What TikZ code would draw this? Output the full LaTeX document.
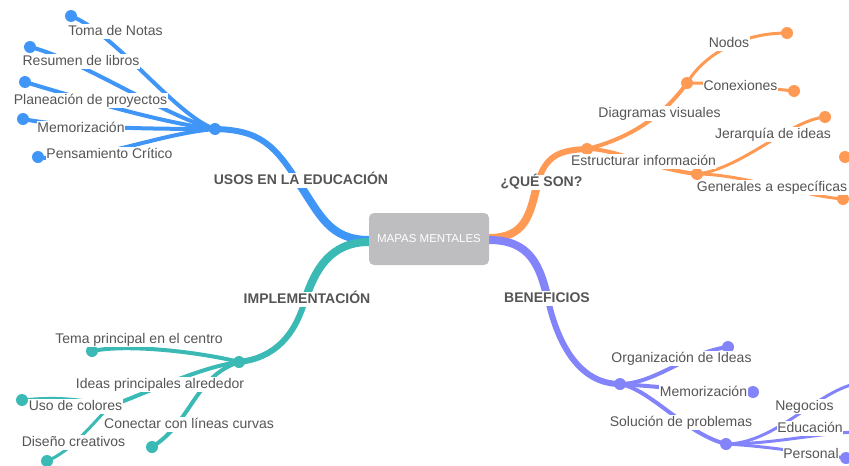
\documentclass[tikz,border=0pt]{standalone}
\usepackage{fontspec}
\setmainfont{Liberation Sans}
\definecolor{cblue}{RGB}{64,150,246}
\definecolor{corange}{RGB}{255,154,84}
\definecolor{cpurple}{RGB}{132,132,250}
\definecolor{cteal}{RGB}{59,185,181}
\definecolor{ctext}{RGB}{85,85,85}
\definecolor{cbox}{RGB}{190,190,192}
\tikzset{
  mainA/.style={line width=8pt, line cap=round},
  mainB/.style={line width=6pt, line cap=round},
  leaf/.style={line width=4pt, line cap=round},
  sub/.style={line width=3pt, line cap=round},
  dot/.style={circle, inner sep=0pt, minimum size=12pt},
  lbl/.style={font=\fontsize{14}{16}\selectfont, text=ctext, fill=white, inner sep=0.6pt, text height=10pt, text depth=3pt, anchor=base},
  blbl/.style={lbl, font=\fontsize{14}{16}\selectfont\bfseries},
  centerbox/.style={fill=cbox, rounded corners=5pt, minimum width=120pt, minimum height=52pt, text=white, font=\fontsize{11.5}{13}\selectfont, inner sep=0pt}
}
\begin{document}
\begin{tikzpicture}[x=1pt,y=-1pt]
\useasboundingbox (0,0) rectangle (849,466);
% ---------- coordinates ----------
\coordinate (bstart) at (400,240);
\coordinate (bmid) at (300,185);
\coordinate (bhub) at (215,129);
\coordinate (b1) at (71,16);
\coordinate (b2) at (30,47);
\coordinate (b3) at (25,82);
\coordinate (b4) at (23,119);
\coordinate (b5) at (38,157);
\coordinate (tstart) at (400,242);
\coordinate (tmid) at (305,300);
\coordinate (thub) at (239,362);
\coordinate (t1) at (92,351);
\coordinate (t2) at (110,406);
\coordinate (t2a) at (22,400);
\coordinate (t2b) at (47,461);
\coordinate (t3) at (152,447);
\coordinate (ostart) at (460,238);
\coordinate (omid) at (537,185);
\coordinate (ohub) at (587,149);
\coordinate (o1) at (687,83);
\coordinate (o1a) at (787,33);
\coordinate (o1b) at (794,91);
\coordinate (o2) at (697,174);
\coordinate (o2a) at (825,117);
\coordinate (o2b) at (843,199);
\coordinate (o2c) at (845,157);
\coordinate (pstart) at (460,240);
\coordinate (pmid) at (548,300);
\coordinate (phub) at (620,384);
\coordinate (p1) at (728,347);
\coordinate (p2) at (753,392);
\coordinate (p3) at (726,444);
\coordinate (p3a) at (860,383);
\coordinate (p3b) at (862,432);
\coordinate (p3c) at (846,458);
% ---------- blue ----------
\draw[mainA,cblue] (bstart) -- (369,240) .. controls +(-39,0) and +(20,30) .. (bmid);
\draw[mainB,cblue] (bmid) .. controls +(-25,-40) and +(45,1) .. (bhub);
\draw[leaf,cblue] (bhub) .. controls +(-38,-12) and +(45,18) .. (b1);
\draw[leaf,cblue] (bhub) .. controls +(-45,-10) and +(50,12) .. (b2);
\draw[leaf,cblue] (bhub) .. controls +(-50,-5) and +(50,15) .. (b3);
\draw[leaf,cblue] (bhub) .. controls +(-80,0) and +(40,8) .. (b4);
\draw[leaf,cblue] (bhub) .. controls +(-60,5) and +(50,8) .. (b5);
% ---------- teal ----------
\draw[mainA,cteal] (tstart) -- (369,242) .. controls +(-39,0) and +(10,-30) .. (tmid);
\draw[mainB,cteal] (tmid) .. controls +(-10,35) and +(36,-4) .. (thub);
\draw[leaf,cteal] (thub) .. controls +(-30,-8) and +(40,-8) .. (t1);
\draw[leaf,cteal] (thub) .. controls +(-40,5) and +(30,-10) .. (t2);
\draw[sub,cteal] (t2) .. controls +(-30,-8) and +(30,-3) .. (t2a);
\draw[sub,cteal] (t2) .. controls +(-15,15) and +(25,-10) .. (t2b);
\draw[leaf,cteal] (thub) .. controls +(-45,15) and +(40,-25) .. (t3);
% ---------- orange ----------
\draw[mainA,corange] (ostart) -- (489,238) .. controls +(36,0) and +(-7,30) .. (omid);
\draw[mainB,corange] (omid) .. controls +(8,-30) and +(-27,1) .. (ohub);
\draw[leaf,corange] (ohub) .. controls +(40,-10) and +(-25,35) .. (o1);
\draw[sub,corange] (o1) .. controls +(15,-25) and +(-50,0) .. (o1a);
\draw[sub,corange] (o1) .. controls +(40,0) and +(-30,-3) .. (o1b);
\draw[leaf,corange] (ohub) .. controls +(30,0) and +(-45,-5) .. (o2);
\draw[sub,corange] (o2) .. controls +(45,-5) and +(-35,3) .. (o2a);
\draw[sub,corange] (o2) .. controls +(45,0) and +(-40,-3) .. (o2b);
% ---------- purple ----------
\draw[mainA,cpurple] (pstart) -- (489,240) .. controls +(41,0) and +(-8,-35) .. (pmid);
\draw[mainB,cpurple] (pmid) .. controls +(10,45) and +(-40,0) .. (phub);
\draw[leaf,cpurple] (phub) .. controls +(35,0) and +(-40,5) .. (p1);
\draw[leaf,cpurple] (phub) .. controls +(45,3) and +(-50,0) .. (p2);
\draw[leaf,cpurple] (phub) .. controls +(30,5) and +(-40,-10) .. (p3);
\draw[sub,cpurple] (p3) .. controls +(50,0) and +(-40,5) .. (p3a);
\draw[sub,cpurple] (p3) .. controls +(50,0) and +(-40,0) .. (p3b);
\draw[sub,cpurple] (p3) .. controls +(40,2) and +(-40,-5) .. (p3c);
% ---------- dots ----------
\foreach \c in {bhub,b1,b2,b3,b4,b5} \node[dot,fill=cblue] at (\c) {};
\foreach \c in {thub,t1,t2,t2a,t2b,t3} \node[dot,fill=cteal] at (\c) {};
\foreach \c in {ohub,o1,o1a,o1b,o2,o2a,o2b,o2c} \node[dot,fill=corange] at (\c) {};
\foreach \c in {phub,p1,p2,p3,p3c} \node[dot,fill=cpurple] at (\c) {};
% ---------- labels ----------
\node[lbl] (l1) at (115.5,35) {Toma de Notas};
\node[lbl] (l2) at (81,65) {Resumen de libros};
\node[lbl] (l3) at (90.5,104) {Planeación de proyectos};
\node[lbl] (l4) at (81,132) {Memorización};
\node[lbl] (l5) at (109.5,158) {Pensamiento Crítico};
\node[blbl] (usos) at (301,184) {USOS EN LA EDUCACIÓN};
\node[blbl] (impl) at (307,303) {IMPLEMENTACIÓN};
\node[lbl] (l6) at (139,343) {Tema principal en el centro};
\node[lbl] (l7) at (160,388) {Ideas principales alrededor};
\node[lbl] (l8) at (75.5,410) {Uso de colores};
\node[lbl] (l9) at (189,428) {Conectar con líneas curvas};
\node[lbl] (l10) at (73.5,446) {Diseño creativos};
\node[blbl] (que) at (541.5,186) {¿QUÉ SON?};
\node[lbl] (l11) at (729,47) {Nodos};
\node[lbl] (l12) at (740.5,90) {Conexiones};
\node[lbl] (l13) at (659.5,117) {Diagramas visuales};
\node[lbl] (l14) at (773,138) {Jerarquía de ideas};
\node[lbl] (l15) at (643.5,165) {Estructurar información};
\node[lbl] (l16) at (772,191) {Generales a específicas};
\node[blbl] (ben) at (547,302) {BENEFICIOS};
\node[lbl] (l17) at (681.5,362) {Organización de Ideas};
\node[lbl] (l18) at (703.5,396) {Memorización};
\node[lbl] (l19) at (681,426) {Solución de problemas};
\node[lbl] (l20) at (804.5,410) {Negocios};
\node[lbl] (l21) at (810,432) {Educación};
\node[lbl] (l22) at (811,458) {Personal};
% ---------- center ----------
\node[centerbox] (center) at (429,239) {MAPAS MENTALES};
\end{tikzpicture}
\end{document}
